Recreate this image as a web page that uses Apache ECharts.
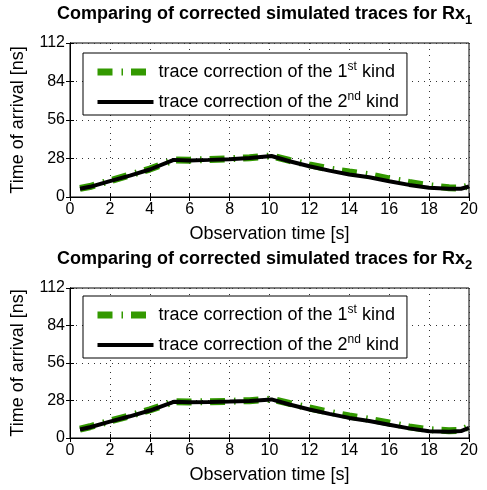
<!DOCTYPE html>
<html>
<head>
<meta charset="utf-8">
<script src="https://cdn.jsdelivr.net/npm/echarts@6/dist/echarts.min.js"></script>
<style>
  html, body { margin: 0; padding: 0; background: #fff; }
  #main { width: 487px; height: 490px; }
</style>
</head>
<body>
<div id="main"></div>
<script>
// observation time [s] and time of arrival [ns]
const obsTime = [0.5, 1, 2, 3, 4, 5.2, 6, 7, 8, 9, 10.1, 11, 12, 13, 14, 15, 16, 17, 18, 19, 19.6, 20];
const rx1First = [6.3, 7.6, 11.8, 16, 20.3, 27, 26.8, 27.2, 27.8, 28.6, 29.9, 26.6, 23.4, 20.4, 18.2, 16.2, 13.2, 10.6, 8.2, 6.8, 6.5, 8.2];
const rx1Second = [6, 7.4, 11.5, 15.6, 20, 27, 26.6, 27, 27.5, 28.3, 29.8, 26, 22.4, 19.2, 16.4, 14.4, 11.4, 8.8, 6.8, 6, 6, 7.6];
const rx2First = [6.6, 8.4, 12.6, 16.6, 21, 27, 26.9, 27.1, 27.4, 27.9, 29, 25.8, 22.4, 19.3, 16.4, 14, 11.2, 8.3, 6.2, 5.5, 5.8, 8.5];
const rx2Second = [6.3, 8, 12.2, 16.2, 20.5, 27, 26.7, 26.8, 27.2, 27.7, 28.8, 25, 21.3, 18, 15, 12.7, 9.9, 7.2, 5, 4.6, 5.2, 7.6];
const xTicks = [0, 20, 2];     // min, max, step
const yTicks = [0, 112, 28];
const seriesNames = ['trace correction of the 1st kind', 'trace correction of the 2nd kind'];
const titles = ['Rx1', 'Rx2'];

const FONT = '"Liberation Sans", Arial, Helvetica, sans-serif';
const green = '#339900';

const chart = echarts.init(document.getElementById('main'));

function pairs(xs, ys) {
  return xs.map((x, i) => [x, ys[i]]);
}

const grids = [
  { left: 70, right: 18, top: 43, height: 154 },
  { left: 70, right: 18, top: 288, height: 150 }
];

const xAxes = [], yAxes = [];
grids.forEach((g, i) => {
  // main axes, bottom / left
  xAxes.push({
    type: 'value', gridIndex: i, min: xTicks[0], max: xTicks[1], interval: xTicks[2],
    name: 'Observation time [s]', nameLocation: 'middle', nameGap: 28,
    nameTextStyle: { color: '#000', fontSize: 18, fontFamily: FONT },
    axisLine: { show: true, lineStyle: { color: '#000', width: 1 } },
    axisTick: { show: true, inside: true, length: 4, lineStyle: { color: '#000' } },
    axisLabel: { color: '#000', fontSize: 16, fontFamily: FONT, margin: 5 },
    splitLine: { show: true, lineStyle: { color: '#333', type: [1, 5], width: 1 } }
  });
  yAxes.push({
    type: 'value', gridIndex: i, min: yTicks[0], max: yTicks[1], interval: yTicks[2],
    name: 'Time of arrival [ns]', nameLocation: 'middle', nameGap: 43,
    nameTextStyle: { color: '#000', fontSize: 18, fontFamily: FONT },
    axisLine: { show: true, lineStyle: { color: '#000', width: 1 } },
    axisTick: { show: true, inside: true, length: 4, lineStyle: { color: '#000' } },
    axisLabel: { color: '#000', fontSize: 16, fontFamily: FONT, margin: 5 },
    splitLine: { show: true, lineStyle: { color: '#333', type: [1, 5], width: 1 } }
  });
});
grids.forEach((g, i) => {
  // mirrored ticks on top / right (box)
  xAxes.push({
    type: 'value', gridIndex: i, position: 'top', min: xTicks[0], max: xTicks[1], interval: xTicks[2],
    axisLine: { show: true, lineStyle: { color: '#000', width: 1 } },
    axisTick: { show: true, inside: true, length: 4, lineStyle: { color: '#000' } },
    axisLabel: { show: false }, splitLine: { show: false }
  });
  yAxes.push({
    type: 'value', gridIndex: i, position: 'right', min: yTicks[0], max: yTicks[1], interval: yTicks[2],
    axisLine: { show: true, lineStyle: { color: '#000', width: 1 } },
    axisTick: { show: true, inside: true, length: 4, lineStyle: { color: '#000' } },
    axisLabel: { show: false }, splitLine: { show: false }
  });
});

const data = [[rx1First, rx1Second], [rx2First, rx2Second]];
const series = [];
data.forEach((d, i) => {
  series.push({
    name: seriesNames[0], type: 'line', xAxisIndex: i, yAxisIndex: i,
    data: pairs(obsTime, d[0]), symbol: 'none', smooth: false,
    lineStyle: { color: green, width: 7, type: [15, 9, 1.5, 8] },
    itemStyle: { color: green }, z: 2, animation: false
  });
  series.push({
    name: seriesNames[1], type: 'line', xAxisIndex: i, yAxisIndex: i,
    data: pairs(obsTime, d[1]), symbol: 'none', smooth: false,
    lineStyle: { color: '#000', width: 4 },
    itemStyle: { color: '#000' }, z: 3, animation: false
  });
});

const legendRich = {
  a: { fontSize: 18, fontFamily: FONT, color: '#000', lineHeight: 22 },
  sup: { fontSize: 12, fontFamily: FONT, color: '#000', verticalAlign: 'top', lineHeight: 22, padding: [0, 0, 6, 0] }
};
function legendFmt(name) {
  const m = name.match(/^(.*\d)(st|nd)( kind)$/);
  return '{a|' + m[1] + '}{sup|' + m[2] + '}{a|' + m[3] + '}';
}
const legends = [53, 296].map(top => ({
  data: seriesNames, orient: 'vertical', left: 83, top: top,
  backgroundColor: '#fff', borderColor: '#000', borderWidth: 1, borderRadius: 0,
  padding: [8, 8, 4, 11], itemGap: 10, itemWidth: 56, itemHeight: 22,
  selectedMode: false,
  lineStyle: { width: 'inherit' },
  itemStyle: { opacity: 0 },
  formatter: legendFmt,
  textStyle: { rich: legendRich }
}));

const titleOpts = titles.map((t, i) => ({
  text: '{t|Comparing of corrected simulated traces for ' + t.slice(0, 2) + '}{s|' + t.slice(2) + '}',
  left: 57, top: i === 0 ? 4 : 249, padding: 0,
  textStyle: {
    rich: {
      t: { fontSize: 18, fontWeight: 'bold', fontFamily: FONT, color: '#000', lineHeight: 20 },
      s: { fontSize: 13, fontWeight: 'bold', fontFamily: FONT, color: '#000', lineHeight: 20, padding: [12, 0, 0, 0] }
    }
  }
}));

chart.setOption({
  backgroundColor: '#fff',
  animation: false,
  title: titleOpts,
  grid: grids.map(g => Object.assign({ show: true, borderColor: '#000', borderWidth: 1, backgroundColor: '#fff' }, g)),
  legend: legends,
  xAxis: xAxes,
  yAxis: yAxes,
  series: series
});
</script>
</body>
</html>
